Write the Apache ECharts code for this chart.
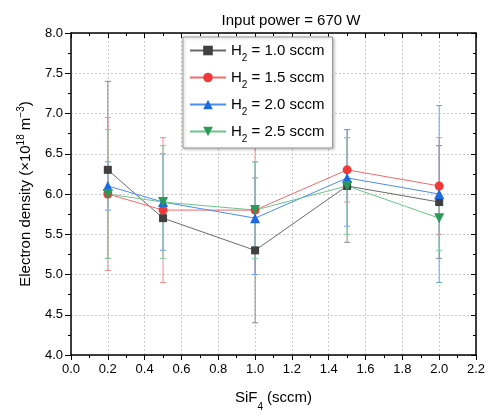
<!DOCTYPE html>
<html>
<head>
<meta charset="utf-8">
<script src="https://cdn.jsdelivr.net/npm/echarts@6/dist/echarts.min.js"></script>
<style>html,body{margin:0;padding:0;background:#fff}#c{width:492px;height:417px}</style>
</head>
<body>
<div id="c"></div>
<script>
const sif4 = [0.2, 0.5, 1.0, 1.5, 2.0];
const seriesNames = ['1.0', '1.5', '2.0', '2.5'];
const h2_10 = [6.3, 5.7, 5.3, 6.1, 5.9];
const h2_10_err = [1.1, 0, 0.9, 0.7, 0.7];
const h2_15 = [6.0, 5.8, 5.8, 6.3, 6.1];
const h2_15_err = [0.95, 0.9, 0.8, 0.4, 0.6];
const h2_20 = [6.1, 5.9, 5.7, 6.2, 6.0];
const h2_20_err = [0.3, 0.6, 0.7, 0.6, 1.1];
const h2_25 = [6.0, 5.9, 5.8, 6.1, 5.7];
const h2_25_err = [0.8, 0.7, 0.6, 0.6, 0.4];

const FONT = 'Liberation Sans, Arial, sans-serif';
const values = [h2_10, h2_15, h2_20, h2_25];
const errs = [h2_10_err, h2_15_err, h2_20_err, h2_25_err];
const markerColors = ['#404040', '#f03a3a', '#1c6ae0', '#2a9a58'];
const lineColors = ['#6a6a6a', '#f26a6a', '#4a8cf0', '#6cc48c'];
const errColors = ['#8a8a8a', '#f58a8a', '#6aa0f0', '#80cc9c'];
const symbols = ['rect', 'circle', 'triangle', 'path://M0,0 L10,0 L5,9 Z'];
const symSizes = [8, 9, 10, 10];

const labelName = n => 'H\u2082 = ' + n + ' sccm';

const series = [];
values.forEach((vals, i) => {
  series.push({
    type: 'custom',
    name: labelName(seriesNames[i]) + ' err',
    data: sif4.map((x, k) => [x, vals[k], errs[i][k]]),
    z: 2,
    silent: true,
    renderItem: function (params, api) {
      const x = api.value(0), y = api.value(1), e = api.value(2);
      if (!e) return null;
      const top = api.coord([x, y + e]);
      const bot = api.coord([x, y - e]);
      const hw = 3;
      const st = { stroke: errColors[i], lineWidth: 1 };
      return {
        type: 'group',
        children: [
          { type: 'line', shape: { x1: top[0], y1: top[1], x2: bot[0], y2: bot[1] }, style: st },
          { type: 'line', shape: { x1: top[0] - hw, y1: top[1], x2: top[0] + hw, y2: top[1] }, style: st },
          { type: 'line', shape: { x1: bot[0] - hw, y1: bot[1], x2: bot[0] + hw, y2: bot[1] }, style: st }
        ]
      };
    }
  });
});
values.forEach((vals, i) => {
  series.push({
    type: 'line',
    name: labelName(seriesNames[i]),
    data: sif4.map((x, k) => [x, vals[k]]),
    symbol: symbols[i],
    symbolSize: symSizes[i],
    itemStyle: { color: markerColors[i] },
    lineStyle: { color: lineColors[i], width: 1 },
    z: 3,
    animation: false
  });
});

const axisLine = { show: true, onZero: false, lineStyle: { color: '#000', width: 1.5 } };
const option = {
  animation: false,
  title: {
    text: 'Input power = 670 W',
    left: 286, top: 8, textAlign: 'center',
    textStyle: { fontFamily: FONT, fontSize: 15, fontWeight: 'normal', color: '#000' }
  },
  grid: { left: 71, right: 16, top: 33, bottom: 58 },
  legend: {
    data: seriesNames.map(labelName),
    left: 183, top: 37,
    orient: 'vertical',
    itemWidth: 36, itemHeight: 12, itemGap: 7,
    padding: [6, 8, 4, 6],
    borderColor: '#999', borderWidth: 1,
    shadowColor: 'rgba(0,0,0,0.25)', shadowBlur: 3, shadowOffsetX: 1, shadowOffsetY: 1,
    backgroundColor: '#fff',
    formatter: function (name) {
      const rest = name.replace('H\u2082', '');
      return '{n|H}{s|2}{n|' + rest + '}';
    },
    textStyle: {
      fontFamily: FONT, fontSize: 15, color: '#000',
      rich: {
        n: { fontFamily: FONT, fontSize: 15, lineHeight: 17, color: '#000' },
        s: { fontFamily: FONT, fontSize: 10, lineHeight: 17, verticalAlign: 'bottom', color: '#000', padding: [0, 0, -4, 0] }
      }
    }
  },
  xAxis: [{
    type: 'value', min: 0, max: 2.2, interval: 0.2,
    name: '{n|SiF}{s|4}{n| (sccm)}', nameLocation: 'middle', nameGap: 33,
    nameTextStyle: {
      rich: {
        n: { fontFamily: FONT, fontSize: 15, lineHeight: 20, color: '#000' },
        s: { fontFamily: FONT, fontSize: 10, lineHeight: 20, verticalAlign: 'bottom', color: '#000', padding: [0, 0, -4, 0] }
      }
    },
    axisLine: axisLine,
    axisTick: { show: true, inside: false, length: 5, lineStyle: { color: '#000' } },
    minorTick: { show: true, splitNumber: 2, length: 3, lineStyle: { color: '#000' } },
    axisLabel: { fontFamily: FONT, fontSize: 13, color: '#000', margin: 8, formatter: v => v.toFixed(1) },
    splitLine: { show: true, lineStyle: { color: '#c8c8c8', type: [2, 2], width: 1 } }
  }, {
    type: 'value', min: 0, max: 2.2, interval: 0.2, position: 'top',
    axisLine: axisLine,
    axisTick: { show: true, inside: true, length: 5, lineStyle: { color: '#000' } },
    minorTick: { show: true, splitNumber: 2, length: 3, lineStyle: { color: '#000' } },
    axisLabel: { show: false },
    splitLine: { show: false }
  }],
  yAxis: [{
    type: 'value', min: 4.0, max: 8.0, interval: 0.5,
    name: '{n|Electron density (\u00d710}{p|18}{n| m}{p|\u22123}{n|)}',
    nameLocation: 'middle', nameGap: 35,
    nameTextStyle: {
      rich: {
        n: { fontFamily: FONT, fontSize: 15, lineHeight: 20, color: '#000' },
        p: { fontFamily: FONT, fontSize: 10, lineHeight: 20, verticalAlign: 'top', color: '#000' }
      }
    },
    axisLine: axisLine,
    axisTick: { show: true, inside: false, length: 6, lineStyle: { color: '#000' } },
    minorTick: { show: true, splitNumber: 2, length: 3, lineStyle: { color: '#000' } },
    axisLabel: { fontFamily: FONT, fontSize: 13, color: '#000', margin: 8, formatter: v => v.toFixed(1) },
    splitLine: { show: true, lineStyle: { color: '#c8c8c8', type: [2, 2], width: 1 } }
  }, {
    type: 'value', min: 4.0, max: 8.0, interval: 0.5, position: 'right',
    axisLine: axisLine,
    axisTick: { show: true, inside: true, length: 5, lineStyle: { color: '#000' } },
    minorTick: { show: true, splitNumber: 2, length: 3, lineStyle: { color: '#000' } },
    axisLabel: { show: false },
    splitLine: { show: false }
  }],
  series: series
};
const chart = echarts.init(document.getElementById('c'), null, { renderer: 'canvas' });
chart.setOption(option);
</script>
</body>
</html>
